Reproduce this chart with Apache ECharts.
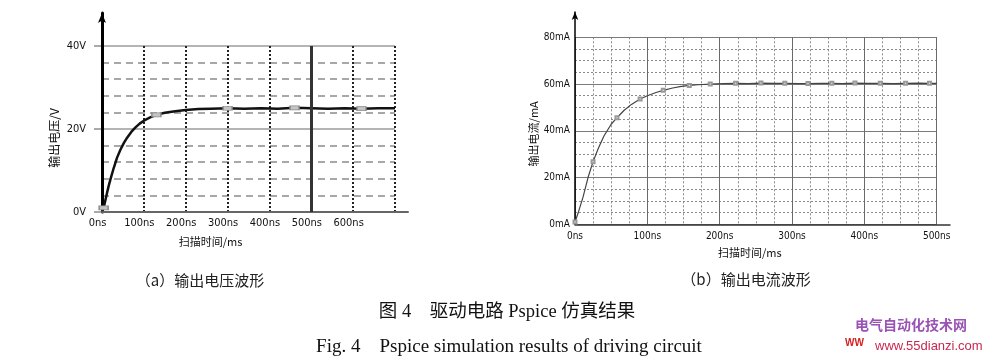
<!DOCTYPE html>
<html>
<head>
<meta charset="utf-8">
<script src="https://cdn.jsdelivr.net/npm/echarts@6/dist/echarts.min.js"></script>
<style>
html,body{margin:0;padding:0;background:#fff;}
#c{width:990px;height:360px;}
</style>
</head>
<body>
<div id="c"></div>
<script>
// ---- data ----
const voltTime  = [0, 4, 8, 12, 16, 20, 28, 36, 44, 52, 60, 70, 80, 90, 100, 115, 130, 150, 175, 200, 230, 260, 300, 340, 380, 420, 460, 500, 540, 580, 620, 660, 700];
const voltValue = [0.3, 1.0, 2.8, 4.6, 6.3, 7.8, 10.6, 13.1, 15.0, 16.6, 17.9, 19.3, 20.4, 21.3, 22.0, 22.8, 23.4, 23.9, 24.3, 24.6, 24.8, 24.9, 25.0, 24.9, 25.0, 24.9, 25.1, 25.0, 24.9, 25.0, 24.9, 25.0, 25.0];
const voltMarkerTimes = [4, 130, 300, 460, 620];

const curTime  = [0, 5, 11, 18, 25, 32, 40, 50, 58, 68, 78, 90, 100, 112, 122, 135, 145, 158, 170, 187, 205, 222, 240, 257, 275, 290, 310, 322, 340, 355, 370, 387, 405, 422, 440, 457, 475, 490, 500];
const curValue = [1.0, 5.5, 11.5, 20.0, 26.8, 32.3, 37.8, 42.8, 45.6, 48.8, 51.3, 53.6, 55.0, 56.4, 57.3, 58.3, 58.9, 59.4, 59.7, 60.0, 60.2, 60.3, 60.2, 60.4, 60.3, 60.3, 60.2, 60.2, 60.3, 60.3, 60.2, 60.4, 60.3, 60.3, 60.2, 60.3, 60.4, 60.3, 60.3];
const curMarkerTimes = [0, 25, 58, 90, 122, 158, 187, 222, 257, 290, 322, 355, 387, 422, 457, 490];

const voltXName = '扫描时间/ms';
const voltYName = '输出电压/V';
const curXName  = '扫描时间/ms';
const curYName  = '输出电流/mA';
const timeUnit = 'ns';
const voltUnit = 'V';
const curUnit  = 'mA';

const capA = '（a）输出电压波形';
const capB = '（b）输出电流波形';
const capCn = '图 4　驱动电路 Pspice 仿真结果';
const capEn = 'Fig. 4    Pspice simulation results of driving circuit';
const wm1 = '电气自动化技术网';
const wm2 = 'www.55dianzi.com';
const wm0 = 'WW';

// ---- chart ----
const narrow = "'Liberation Sans Narrow','DejaVu Sans Condensed','Arial Narrow','Liberation Sans',sans-serif";
const cjk = "'Noto Sans CJK SC',sans-serif";

const chart = echarts.init(document.getElementById('c'), null, {renderer: 'canvas'});

function hiddenAxis(extra) {
  return Object.assign({
    type: 'value', axisLabel: {show: false}, axisTick: {show: false},
    axisLine: {show: false}, splitLine: {show: false}
  }, extra);
}

const option = {
  animation: false,
  backgroundColor: '#fff',
  grid: [
    {left: 102, top: 46, width: 293, height: 166},
    {left: 102, top: 13, width: 306, height: 199},
    {left: 575, top: 37.3, width: 361.7, height: 187},
    {left: 575, top: 12, width: 375, height: 212.3}
  ],
  xAxis: [
    { // 0 left plot
      type: 'value', gridIndex: 0, min: 0, max: 700, interval: 100, z: 2,
      axisLine: {show: false}, axisTick: {show: false},
      axisLabel: {formatter: v => v + timeUnit, showMaxLabel: false, fontFamily: narrow, fontSize: 11, color: '#111', margin: 6, padding: [0, 9, 0, 0]},
      splitLine: {show: true, lineStyle: {color: '#222', width: 2, type: [2, 2]}},
      name: voltXName, nameLocation: 'middle', nameGap: 24,
      nameTextStyle: {fontFamily: cjk, fontSize: 11, color: '#111', padding: [0, 76, 0, 0]}
    },
    hiddenAxis({gridIndex: 1, min: 0, max: 1, z: 3, axisLine: {show: true, lineStyle: {color: '#666', width: 2}}}),
    { // 2 right plot major
      type: 'value', gridIndex: 2, min: 0, max: 500, interval: 100, z: 2,
      axisLine: {show: false}, axisTick: {show: false},
      axisLabel: {formatter: v => v + timeUnit, fontFamily: narrow, fontSize: 10, color: '#111', margin: 7},
      splitLine: {show: true, lineStyle: {color: '#6a6a6a', width: 1}},
      name: curXName, nameLocation: 'middle', nameGap: 23,
      nameTextStyle: {fontFamily: cjk, fontSize: 11, color: '#111', padding: [0, 12, 0, 0]}
    },
    { // 3 right plot minor
      type: 'value', gridIndex: 2, min: 0, max: 500, interval: 25, z: 1,
      axisLine: {show: false}, axisTick: {show: false}, axisLabel: {show: false},
      splitLine: {show: true, showMinLine: false, lineStyle: {color: '#8a8a8a', width: 1, type: [2, 2]}}
    },
    hiddenAxis({gridIndex: 3, min: 0, max: 1, z: 3, axisLine: {show: true, lineStyle: {color: '#333', width: 1.5}}})
  ],
  yAxis: [
    { // 0 left major
      type: 'value', gridIndex: 0, min: 0, max: 40, interval: 20, z: 1,
      axisLine: {show: false},
      axisTick: {show: true, length: 8, lineStyle: {color: '#aaa', width: 2}},
      axisLabel: {formatter: v => v + voltUnit, fontFamily: narrow, fontSize: 11, color: '#111', margin: 16},
      splitLine: {show: true, lineStyle: {color: '#b4b4b4', width: 2}},
      name: voltYName, nameLocation: 'middle', nameGap: 42,
      nameTextStyle: {fontFamily: cjk, fontSize: 12, color: '#111', padding: [0, 18, 0, 0]}
    },
    { // 1 left minor
      type: 'value', gridIndex: 0, min: 0, max: 40, interval: 4, z: 0, position: 'left',
      axisLine: {show: false}, axisTick: {show: false}, axisLabel: {show: false},
      splitLine: {show: true, showMinLine: false, lineStyle: {color: '#8c8c8c', width: 1.5, type: [7, 5]}}
    },
    hiddenAxis({gridIndex: 1, min: 0, max: 1, z: 3,
      axisLine: {show: true, symbol: ['none', 'arrow'], symbolSize: [6, 10], lineStyle: {color: '#000', width: 3}}}),
    { // 3 right major
      type: 'value', gridIndex: 2, min: 0, max: 80, interval: 20, z: 2,
      axisLine: {show: false}, axisTick: {show: false},
      axisLabel: {formatter: v => v + curUnit, fontFamily: narrow, fontSize: 10, color: '#111', margin: 5},
      splitLine: {show: true, lineStyle: {color: '#7a7a7a', width: 1}},
      name: curYName, nameLocation: 'middle', nameGap: 23,
      nameTextStyle: {fontFamily: cjk, fontSize: 11, color: '#111', padding: [0, 6, 0, 0]}
    },
    { // 4 right minor
      type: 'value', gridIndex: 2, min: 0, max: 80, interval: 5, z: 1, position: 'left',
      axisLine: {show: false}, axisTick: {show: false}, axisLabel: {show: false},
      splitLine: {show: true, showMinLine: false, lineStyle: {color: '#8a8a8a', width: 1, type: [2, 2]}}
    },
    hiddenAxis({gridIndex: 3, min: 0, max: 1, z: 3,
      axisLine: {show: true, symbol: ['none', 'arrow'], symbolSize: [5, 8], lineStyle: {color: '#000', width: 1.5}}})
  ],
  series: [
    {
      type: 'line', xAxisIndex: 0, yAxisIndex: 0, z: 4,
      data: voltTime.map((t, i) => [t, voltValue[i]]),
      lineStyle: {color: '#111', width: 2.5},
      symbol: 'rect', showAllSymbol: true,
      symbolSize: v => voltMarkerTimes.includes(v[0]) ? [9, 4] : 0,
      itemStyle: {color: '#c4c4c4', borderColor: '#8a8a8a', borderWidth: 1},
      markLine: {
        silent: true, symbol: ['none', 'none'], label: {show: false},
        lineStyle: {color: '#333', width: 3, type: 'solid'},
        data: [{xAxis: 500}]
      }
    },
    {
      type: 'line', xAxisIndex: 2, yAxisIndex: 3, z: 4,
      data: curTime.map((t, i) => [t, curValue[i]]),
      lineStyle: {color: '#444', width: 1.2},
      symbol: 'emptyRect', showAllSymbol: true,
      symbolSize: v => curMarkerTimes.includes(v[0]) ? 3 : 0,
      itemStyle: {color: '#999', borderColor: '#999', borderWidth: 1}
    }
  ],
  graphic: [
    {type: 'text', x: 200, y: 280, style: {text: capA, font: "15px 'Noto Sans CJK SC', sans-serif", fill: '#222', textAlign: 'center', textVerticalAlign: 'middle'}},
    {type: 'text', x: 746, y: 279, style: {text: capB, font: "15px 'Noto Sans CJK SC', sans-serif", fill: '#222', textAlign: 'center', textVerticalAlign: 'middle'}},
    {type: 'text', x: 507, y: 312, style: {text: capCn, font: "18.5px 'Liberation Serif','Noto Sans CJK SC', serif", fill: '#111', textAlign: 'center', textVerticalAlign: 'middle'}},
    {type: 'text', x: 509, y: 347, style: {text: capEn, font: "19px 'Liberation Serif', serif", fill: '#111', textAlign: 'center', textVerticalAlign: 'middle'}},
    {type: 'text', x: 911, y: 325, style: {text: wm1, font: "bold 14px 'Noto Sans CJK SC', sans-serif", fill: '#9a52b4', textAlign: 'center', textVerticalAlign: 'middle'}},
    {type: 'text', x: 875, y: 346, style: {text: wm2, font: "13px 'Liberation Sans', sans-serif", fill: '#c8284f', textAlign: 'left', textVerticalAlign: 'middle'}},
    {type: 'text', x: 845, y: 343, style: {text: wm0, font: "bold 10px 'Liberation Sans', sans-serif", fill: '#d42020', textAlign: 'left', textVerticalAlign: 'middle'}}
  ]
};
chart.setOption(option);
</script>
</body>
</html>
